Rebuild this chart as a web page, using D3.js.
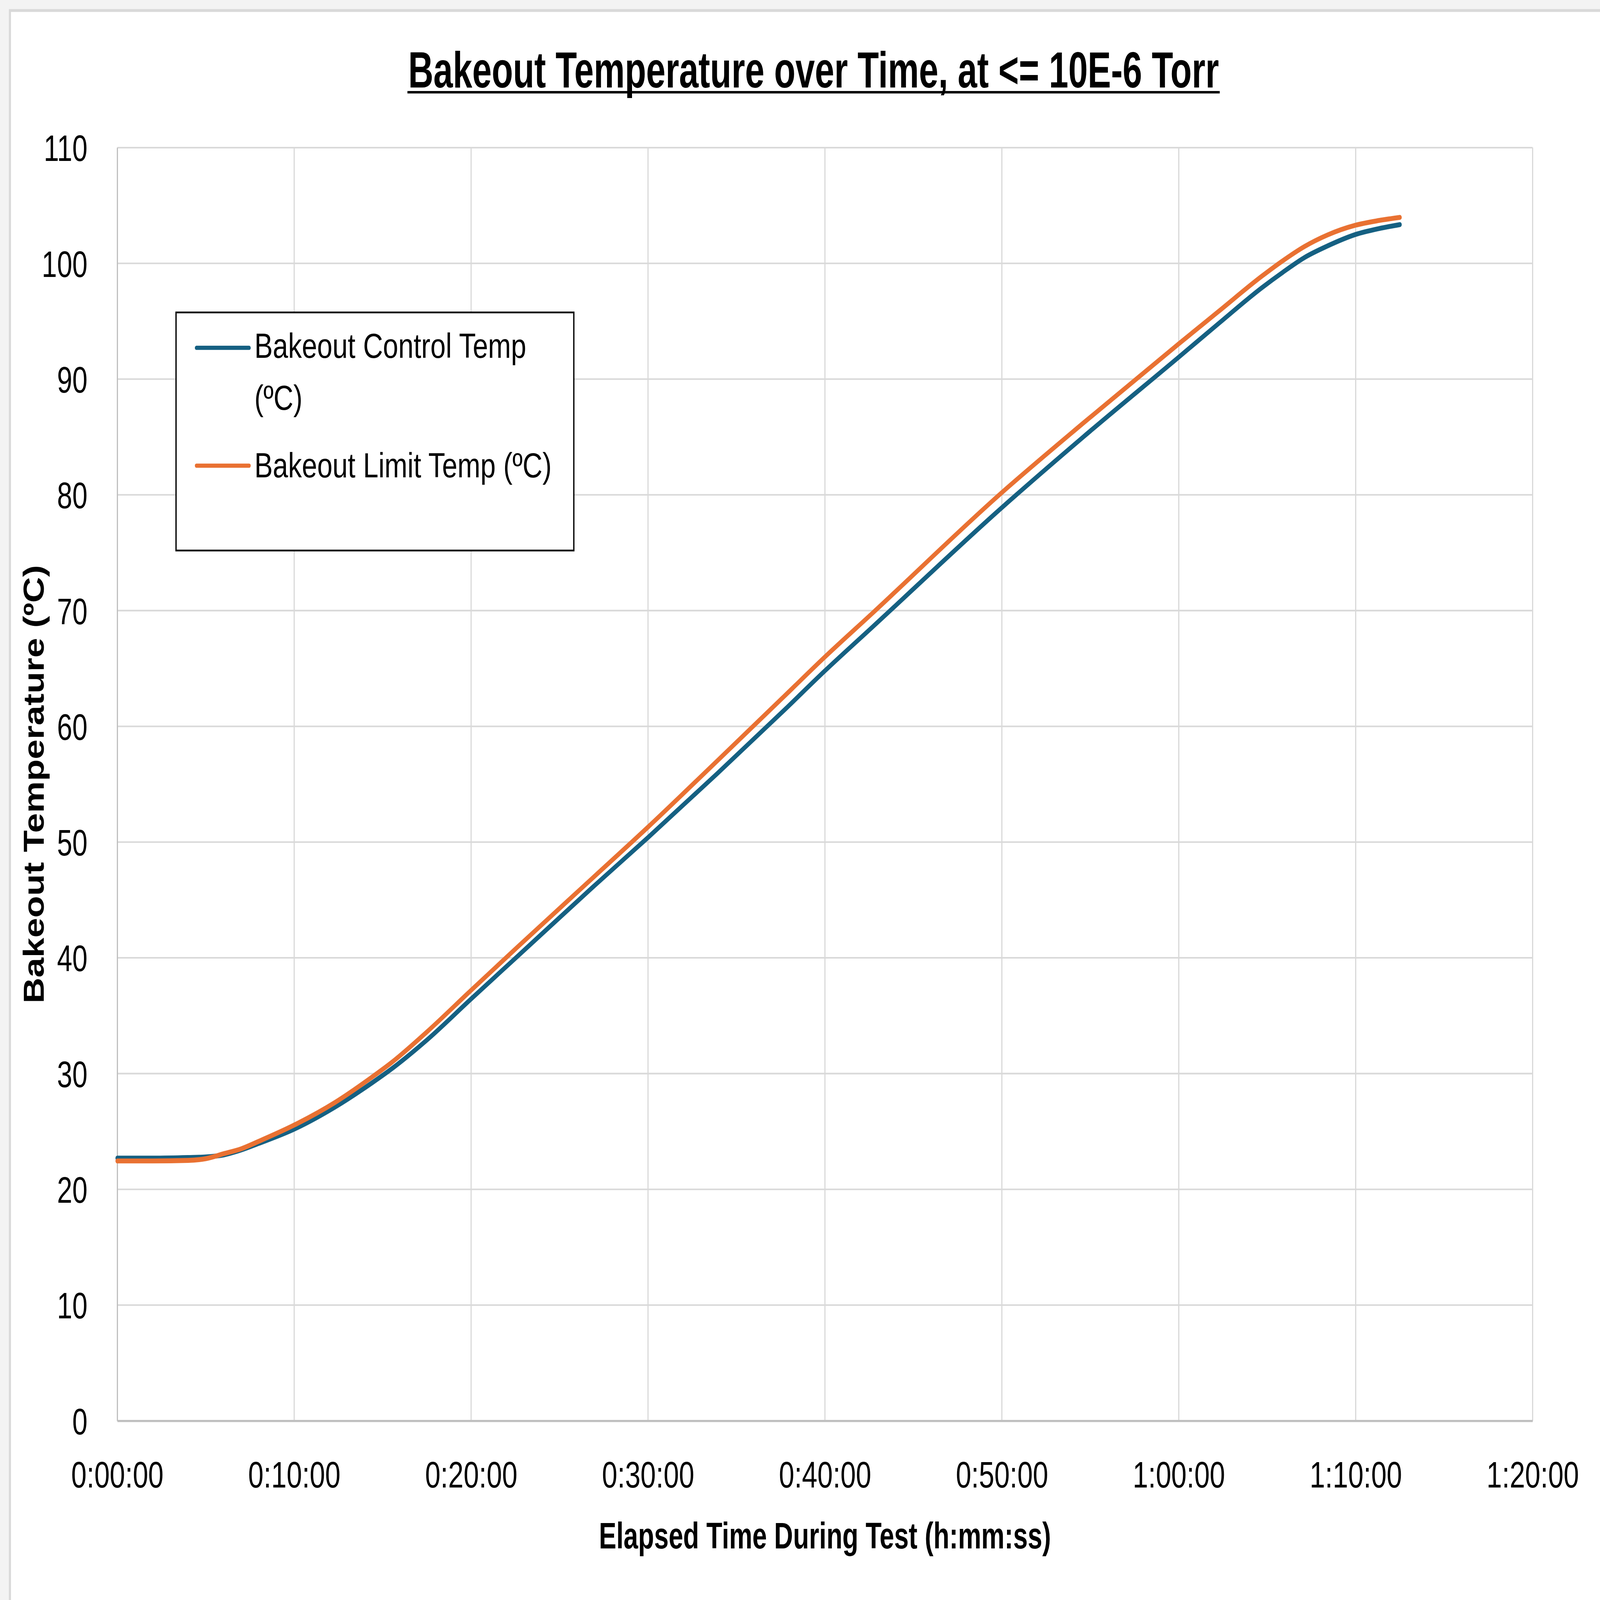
<!DOCTYPE html>
<html>
<head>
<meta charset="utf-8">
<script src="https://cdn.jsdelivr.net/npm/d3@7"></script>
<style>
  html, body { margin: 0; padding: 0; background: #f3f3f3; overflow: hidden; }
  svg { display: block; }
  text { font-family: "Liberation Sans", Arial, sans-serif; fill: #000; }
</style>
</head>
<body>
<div id="chart"></div>
<script>
// Elapsed time (minutes) and the two temperature traces.
const minutes = [0, 2, 4, 5, 6, 7, 8, 10, 12.3, 14.4, 15.5, 17.5, 20, 22.6, 26.8, 30, 33.9, 37.7, 40, 42.7, 50, 54.6, 60, 62.25, 64.7, 65.9, 67.1, 68.4, 70, 71.3, 72.5];
const controlTemp = [22.7, 22.7, 22.75, 22.8, 22.97, 23.4, 23.97, 25.2, 27.1, 29.2, 30.4, 32.9, 36.45, 40.1, 46.0, 50.4, 55.9, 61.4, 64.8, 68.6, 78.9, 85.0, 91.9, 94.8, 97.9, 99.25, 100.5, 101.5, 102.5, 103.0, 103.35];
const limitTemp = [22.45, 22.45, 22.5, 22.65, 23.07, 23.5, 24.15, 25.55, 27.5, 29.7, 30.95, 33.6, 37.2, 40.9, 46.8, 51.3, 57.0, 62.6, 66.0, 69.8, 80.2, 86.2, 93.05, 95.85, 98.9, 100.25, 101.45, 102.45, 103.3, 103.7, 103.97];

const xTicks = [0, 10, 20, 30, 40, 50, 60, 70, 80];
const yTicks = [0, 10, 20, 30, 40, 50, 60, 70, 80, 90, 100, 110];

const seriesNames = ["Bakeout Control Temp (ºC)", "Bakeout Limit Temp (ºC)"];
const seriesColors = ["#156082", "#E97132"];

const W = 6126, H = 4563;
const plot = { left: 449, right: 5868, top: 421, bottom: 4052 };

// Drawn in a fixed 6126x4563 coordinate space, scaled to fill the window.
const svg = d3.select("#chart").append("svg")
  .attr("viewBox", `0 0 ${W} ${H}`)
  .attr("preserveAspectRatio", "none")
  .style("width", "100vw")
  .style("height", "100vh");

// Chart area with its faint border.
svg.append("rect")
  .attr("x", 38).attr("y", 30)
  .attr("width", W + 100).attr("height", H + 100)
  .attr("fill", "#fff")
  .attr("stroke", "#d9d9d9")
  .attr("stroke-width", 8);

const x = d3.scaleLinear().domain([0, 80]).range([plot.left, plot.right]);
const y = d3.scaleLinear().domain([0, 110]).range([plot.bottom, plot.top]);

const fmtTime = (m) => `${Math.floor(m / 60)}:${String(m % 60).padStart(2, "0")}:00`;

// Gridlines.
svg.append("g")
  .selectAll("line")
  .data(yTicks.filter((d) => d > 0))
  .enter()
  .append("line")
  .attr("x1", plot.left).attr("x2", plot.right)
  .attr("y1", (d) => y(d)).attr("y2", (d) => y(d))
  .attr("stroke", "#d9d9d9")
  .attr("stroke-width", 4.5);

svg.append("g")
  .selectAll("line")
  .data(xTicks.filter((d) => d > 0))
  .enter()
  .append("line")
  .attr("x1", (d) => x(d)).attr("x2", (d) => x(d))
  .attr("y1", plot.top).attr("y2", plot.bottom)
  .attr("stroke", "#d9d9d9")
  .attr("stroke-width", 4.5);

// Axes: D3 axes with the domain path restyled, tick marks hidden.
const xAxis = svg.append("g")
  .attr("transform", `translate(0,${plot.bottom})`)
  .call(d3.axisBottom(x).tickValues(xTicks).tickFormat(fmtTime).tickSize(0).tickPadding(0));
xAxis.select(".domain").attr("stroke", "#bfbfbf").attr("stroke-width", 6);
xAxis.selectAll("text")
  .attr("y", 190)
  .attr("dy", 0)
  .style("font-size", "106px")
  .style("font-family", '"Liberation Sans", Arial, sans-serif')
  .attr("fill", "#000");

const yAxis = svg.append("g")
  .attr("transform", `translate(${plot.left},0)`)
  .call(d3.axisLeft(y).tickValues(yTicks).tickSize(0).tickPadding(0));
yAxis.select(".domain").attr("stroke", "#bfbfbf").attr("stroke-width", 4.5);
yAxis.selectAll("text")
  .attr("x", -114)
  .attr("dy", "0.36em")
  .style("font-size", "105px")
  .style("font-family", '"Liberation Sans", Arial, sans-serif')
  .attr("fill", "#000");

// Series lines.
const line = d3.line()
  .x((d) => x(d[0]))
  .y((d) => y(d[1]))
  .curve(d3.curveMonotoneX);

[controlTemp, limitTemp].forEach((vals, i) => {
  svg.append("path")
    .datum(minutes.map((m, j) => [m, vals[j]]))
    .attr("d", line)
    .attr("fill", "none")
    .attr("stroke", seriesColors[i])
    .attr("stroke-width", 14)
    .attr("stroke-linecap", "round")
    .attr("stroke-linejoin", "round");
});

// Title, underlined.
svg.append("text")
  .attr("x", 1563).attr("y", 250)
  .attr("textLength", 3104)
  .attr("lengthAdjust", "spacingAndGlyphs")
  .style("font-size", "144px")
  .style("font-weight", "bold")
  .text("Bakeout Temperature over Time, at <= 10E-6 Torr");
svg.append("line")
  .attr("x1", 1560).attr("x2", 4670)
  .attr("y1", 263).attr("y2", 263)
  .attr("stroke", "#000")
  .attr("stroke-width", 7);

// Axis titles.
svg.append("text")
  .attr("x", (plot.left + plot.right) / 2).attr("y", 4416)
  .attr("text-anchor", "middle")
  .attr("textLength", 1731)
  .attr("lengthAdjust", "spacingAndGlyphs")
  .style("font-size", "106px")
  .style("font-weight", "bold")
  .text("Elapsed Time During Test (h:mm:ss)");

svg.append("text")
  .attr("transform", `translate(167,${(plot.top + plot.bottom) / 2}) rotate(-90)`)
  .attr("text-anchor", "middle")
  .attr("textLength", 1250)
  .attr("lengthAdjust", "spacingAndGlyphs")
  .style("font-size", "112px")
  .style("font-weight", "bold")
  .text("Bakeout Temperature (ºC)");

// Legend box.
const legend = svg.append("g");
legend.append("rect")
  .attr("x", 674).attr("y", 891)
  .attr("width", 1523).attr("height", 679)
  .attr("fill", "#fff")
  .attr("stroke", "#000")
  .attr("stroke-width", 5);

const legendRows = [
  { lines: ["Bakeout Control Temp", "(ºC)"], widths: [1041, 184], sampleY: 992, baseY: 1021 },
  { lines: ["Bakeout Limit Temp (ºC)"], widths: [1138], sampleY: 1328, baseY: 1361 }
];

legendRows.forEach((row, i) => {
  legend.append("line")
    .attr("x1", 752).attr("x2", 954)
    .attr("y1", row.sampleY).attr("y2", row.sampleY)
    .attr("stroke", seriesColors[i])
    .attr("stroke-width", 12)
    .attr("stroke-linecap", "round");
  row.lines.forEach((t, k) => {
    legend.append("text")
      .attr("x", 974)
      .attr("y", row.baseY + k * 148)
      .attr("textLength", row.widths[k])
      .attr("lengthAdjust", "spacingAndGlyphs")
      .style("font-size", "99px")
      .text(t);
  });
});
</script>
</body>
</html>
